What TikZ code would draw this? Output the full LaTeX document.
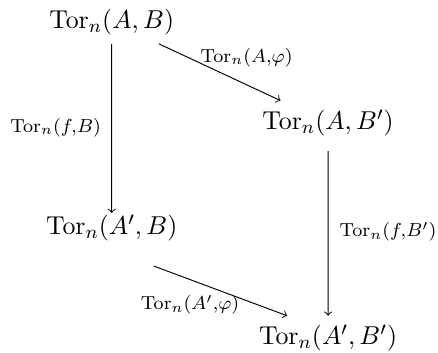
\documentclass[tikz,border=0pt,11pt]{standalone}
\usepackage{amsmath}
\usepackage{amssymb}
\begin{document}
\begin{tikzpicture}[xscale=6.523,yscale=5.243]
\useasboundingbox (0,0) rectangle (1,1);
\node (AB) at (0.255,0.938) {$\operatorname{Tor}_n(A,B)$};
\node (ABp) at (0.749,0.651) {$\operatorname{Tor}_n(A,B')$};
\node (ApB) at (0.255,0.352) {$\operatorname{Tor}_n(A',B)$};
\node (ApBp) at (0.749,0.040) {$\operatorname{Tor}_n(A',B')$};
\draw [->] (AB) -- (ABp);
\draw [->, shorten >=-3pt] (AB) -- (ApB);
\draw [->, shorten <=2.5pt] (ABp) -- (ApBp);
\draw [->, shorten <=19pt] (ApB.south) -- ([xshift=-2.67pt]ApBp.north);
\node (lAphi) at (0.563,0.837) {$\scriptstyle\operatorname{Tor}_n(A,\varphi)$};
\node (lfB) at (0.127,0.638) {$\scriptstyle\operatorname{Tor}_n(f,B)$};
\node (lfBp) at (0.886,0.341) {$\scriptstyle\operatorname{Tor}_n(f,B')$};
\node (lApphi) at (0.434,0.134) {$\scriptstyle\operatorname{Tor}_n(A',\varphi)$};
\end{tikzpicture}
\end{document}
